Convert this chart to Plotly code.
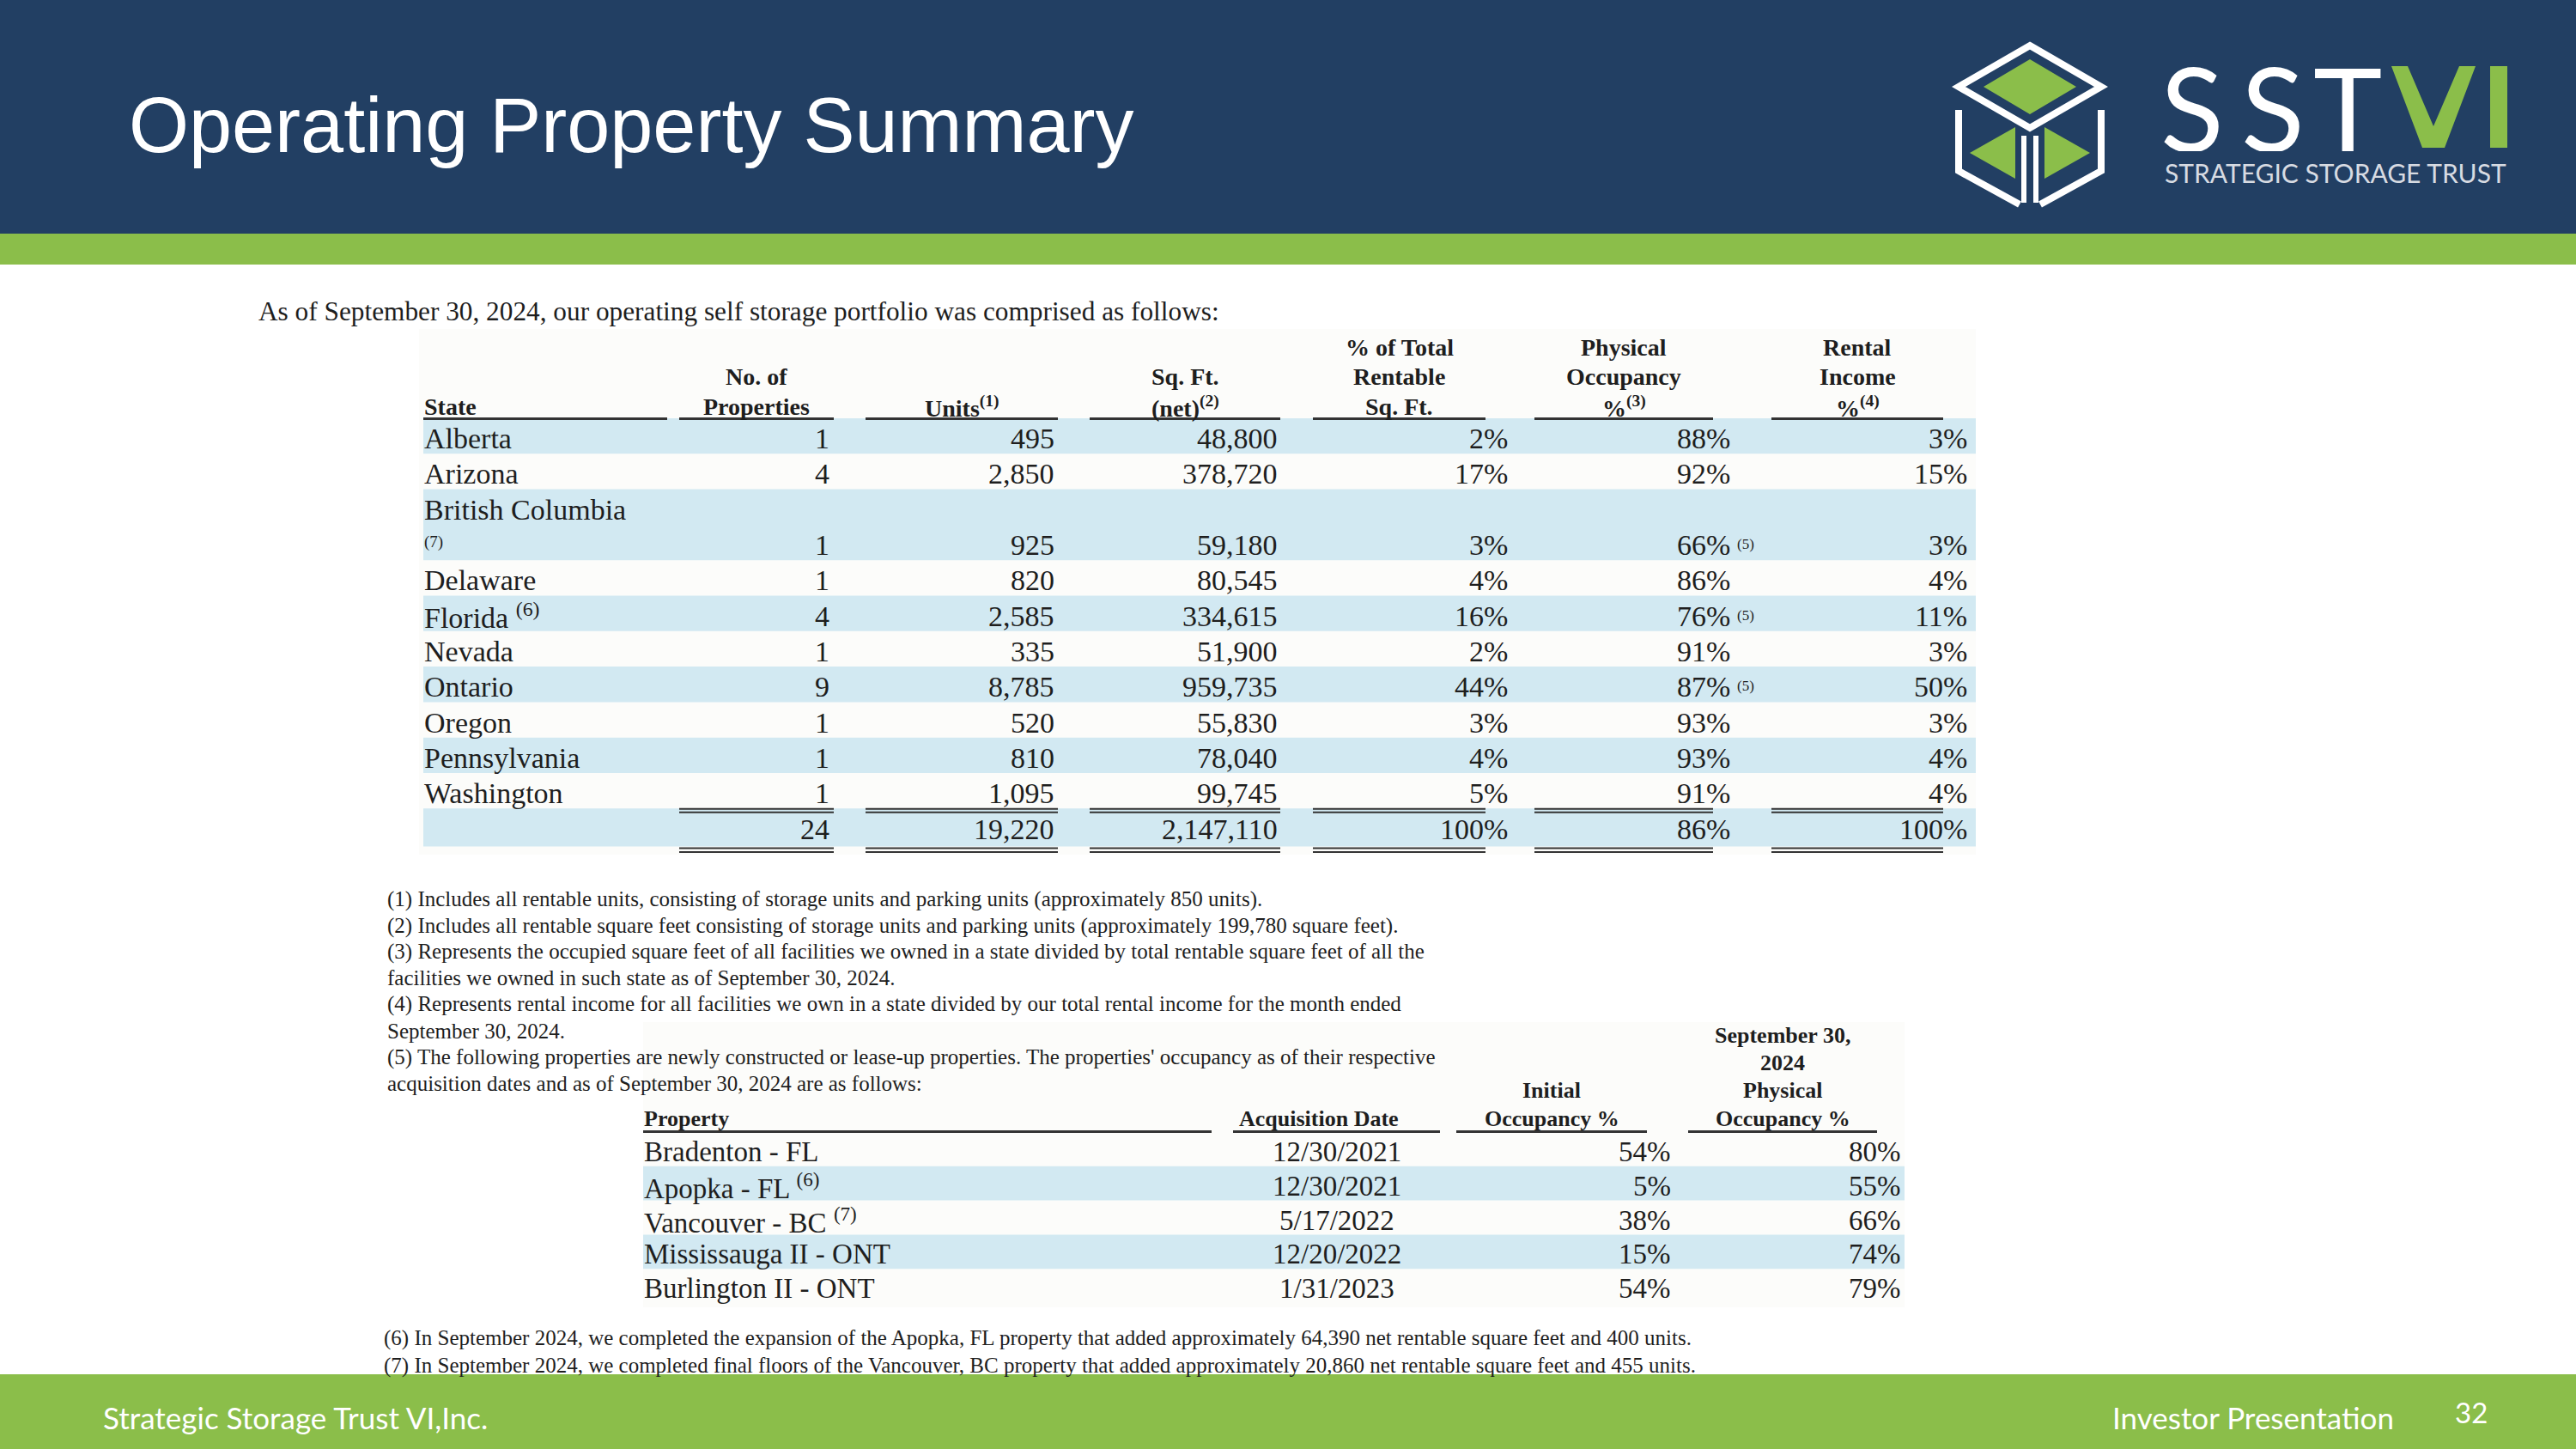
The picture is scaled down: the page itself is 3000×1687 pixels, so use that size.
import plotly.graph_objects as go

W, H = 3000, 1687

# ---------------- data ----------------
states = ["Alberta", "Arizona", "British Columbia", "Delaware", "Florida", "Nevada",
          "Ontario", "Oregon", "Pennsylvania", "Washington"]
state_notes = ["", "", "(7)", "", "(6)", "", "", "", "", ""]
state_lines = [1, 1, 2, 1, 1, 1, 1, 1, 1, 1]
num_properties = [1, 4, 1, 1, 4, 1, 9, 1, 1, 1]
units = [495, 2850, 925, 820, 2585, 335, 8785, 520, 810, 1095]
sq_ft = [48800, 378720, 59180, 80545, 334615, 51900, 959735, 55830, 78040, 99745]
pct_rentable = [2, 17, 3, 4, 16, 2, 44, 3, 4, 5]
occupancy = [88, 92, 66, 86, 76, 91, 87, 93, 93, 91]
occupancy_notes = ["", "", "(5)", "", "(5)", "", "(5)", "", "", ""]
rental_income = [3, 15, 3, 4, 11, 3, 50, 3, 4, 4]
totals = {"properties": 24, "units": 19220, "sq_ft": 2147110,
          "pct_rentable": 100, "occupancy": 86, "rental_income": 100}

main_headers = [
    ["State"],
    ["No. of", "Properties"],
    ["Units<sup>(1)</sup>"],
    ["Sq. Ft.", "(net)<sup>(2)</sup>"],
    ["% of Total", "Rentable", "Sq. Ft."],
    ["Physical", "Occupancy", "%<sup>(3)</sup>"],
    ["Rental", "Income", "%<sup>(4)</sup>"],
]

lease_up_properties = ["Bradenton - FL", "Apopka - FL", "Vancouver - BC",
                       "Mississauga II - ONT", "Burlington II - ONT"]
lease_up_notes = ["", "(6)", "(7)", "", ""]
acquisition_dates = ["12/30/2021", "12/30/2021", "5/17/2022", "12/20/2022", "1/31/2023"]
initial_occupancy = [54, 5, 38, 15, 54]
sept_occupancy = [80, 55, 66, 74, 79]

lease_headers = [
    ["Property"],
    ["Acquisition Date"],
    ["Initial", "Occupancy %"],
    ["September 30,", "2024", "Physical", "Occupancy %"],
]

intro_text = "As of September 30, 2024, our operating self storage portfolio was comprised as follows:"
footnotes_top = [
    "(1) Includes all rentable units, consisting of storage units and parking units (approximately 850 units).",
    "(2) Includes all rentable square feet consisting of storage units and parking units (approximately 199,780 square feet).",
    "(3) Represents the occupied square feet of all facilities we owned in a state divided by total rentable square feet of all the",
    "facilities we owned in such state as of September 30, 2024.",
    "(4) Represents rental income for all facilities we own in a state divided by our total rental income for the month ended",
    "September 30, 2024.",
    "(5) The following properties are newly constructed or lease-up properties. The properties' occupancy as of their respective",
    "acquisition dates and as of September 30, 2024 are as follows:",
]
footnotes_bottom = [
    "(6) In September 2024, we completed the expansion of the Apopka, FL property that added approximately 64,390 net rentable square feet and 400 units.",
    "(7) In September 2024, we completed final floors of the Vancouver, BC property that added approximately 20,860 net rentable square feet and 455 units.",
]

title_text = "Operating Property Summary"
logo_word = ["S", "S", "T"]
logo_tagline = "STRATEGIC STORAGE TRUST"
footer_left = "Strategic Storage Trust VI,Inc."
footer_right = "Investor Presentation"
page_number = "32"

# ---------------- styles ----------------
NAVY = "#223f63"
GREEN = "#8bbe4a"
BAND = "#d2e9f2"
INK = "#1e1e1e"
RULE = "#333333"
SERIF = "Liberation Serif, Times New Roman, serif"
SANS = "Liberation Sans, Arial, sans-serif"
FOOT = "Lato, Open Sans, sans-serif"

fig = go.Figure()
fig.add_trace(go.Scatter(x=[0, W], y=[0, H], mode="markers",
                         marker=dict(opacity=0), hoverinfo="skip"))

shapes = []


def rect(x0, y0, x1, y1, color, layer="below"):
    shapes.append(dict(type="rect", xref="x", yref="y", x0=x0, y0=y0, x1=x1, y1=y1,
                       fillcolor=color, line=dict(width=0), layer=layer))


def hline(x0, x1, y, width=3, color=RULE):
    shapes.append(dict(type="line", xref="x", yref="y", x0=x0, x1=x1, y0=y, y1=y,
                       line=dict(color=color, width=width)))


def path(d, fill=None, line_color=None, lw=0):
    shp = dict(type="path", xref="x", yref="y", path=d, layer="above",
               line=dict(width=lw, color=line_color or "rgba(0,0,0,0)"))
    if fill:
        shp["fillcolor"] = fill
    shapes.append(shp)


def txt(x, y, s, size, xanchor="left", family=SERIF, color=INK, height=None):
    kw = {}
    if height is not None:
        kw = dict(height=height, valign="middle")
    fig.add_annotation(x=x, y=y, xref="x", yref="y", text=s, showarrow=False,
                       xanchor=xanchor, yanchor="middle", borderpad=0,
                       font=dict(family=family, size=size, color=color), **kw)


# ---------------- page frame ----------------
rect(0, 0, W, 272, NAVY)
rect(0, 272, W, 308, GREEN)
rect(0, 1600, W, H, GREEN)

txt(149, 146, title_text, 90, family=SANS, color="white")

# logo icon
path("M 2364,53 L 2447,101 L 2364,149 L 2281,101 Z", line_color="white", lw=8)
path("M 2364,69 L 2418,101 L 2364,133 L 2310,101 Z", fill=GREEN)
path("M 2281,128 L 2281,199 L 2352,238", line_color="white", lw=8)
path("M 2447,128 L 2447,199 L 2376,238", line_color="white", lw=8)
path("M 2357,158 L 2357,236", line_color="white", lw=6)
path("M 2371,158 L 2371,236", line_color="white", lw=6)
path("M 2294,178 L 2347,148 L 2347,208 Z", fill=GREEN)
path("M 2381,148 L 2381,208 L 2434,178 Z", fill=GREEN)

# logo lettering: white "SST" as text, green "VI" as drawn marks
for ch, cx in zip(logo_word, [2553, 2647, 2734]):
    txt(cx, 124, ch, 136, xanchor="center", family="Lato, sans-serif",
        color="white", height=104)
path("M 2785,77 L 2804,77 L 2834,147 L 2864,77 L 2883,77 L 2847,172 L 2821,172 Z", fill=GREEN)
rect(2900, 77, 2920, 172, GREEN, layer="above")
txt(2920, 201, logo_tagline, 30, xanchor="right",
    family="Lato, sans-serif", color="#d7dbe2", height=24)

# footer
txt(119, 1650, footer_left, 35, family=FOOT, color="white")
txt(2789, 1650, footer_right, 35, xanchor="right", family=FOOT, color="white")
txt(2898, 1644, page_number, 33, xanchor="right", family=FOOT, color="white")

# ---------------- intro ----------------
txt(300, 362, intro_text, 31.3)

# ---------------- main table ----------------
rect(488, 383, 2301, 995, "#fcfcfa")
col_spans = [(493, 777), (791, 971), (1008, 1232), (1269, 1491),
             (1529, 1730), (1787, 1995), (2063, 2263)]
value_right = [967, 1229, 1489, 1757, 2016, 2292]
table_left, table_right = 493, 2301
top0, rh = 487, 41.3
hdr_size, body_size = 28, 34
hdr_bottom, hdr_step = 473, 34.5

for (x0, x1), lines in zip(col_spans, main_headers):
    n = len(lines)
    for k, line in enumerate(lines):
        y = hdr_bottom - (n - 1 - k) * hdr_step
        if x0 == col_spans[0][0]:
            txt(x0, y, "<b>" + line + "</b>", hdr_size)
        else:
            txt((x0 + x1) / 2, y, "<b>" + line + "</b>", hdr_size, xanchor="center")
    hline(x0, x1, 487.5, 3)

row_top = top0
for i, state in enumerate(states):
    h = rh * state_lines[i]
    if i % 2 == 0:
        rect(table_left, row_top, table_right, row_top + h, BAND)
    name_y = row_top + rh / 2 + 3
    val_y = row_top + h - rh / 2 + 3
    if state_lines[i] > 1:
        txt(table_left, name_y, state, body_size)
        txt(table_left, val_y - 4, state_notes[i], 19)
    else:
        label = state + (" <sup>" + state_notes[i] + "</sup>" if state_notes[i] else "")
        txt(table_left, name_y, label, body_size)
    vals = [f"{num_properties[i]}", f"{units[i]:,}", f"{sq_ft[i]:,}",
            f"{pct_rentable[i]}%", f"{occupancy[i]}%", f"{rental_income[i]}%"]
    for xr, v in zip(value_right, vals):
        txt(xr, val_y, v, body_size, xanchor="right")
    if occupancy_notes[i]:
        txt(value_right[4] + 6, val_y - 1, occupancy_notes[i], 17)
    row_top += h

# totals row
rect(table_left, row_top, table_right, row_top + rh + 3, BAND)
tot_vals = [f"{totals['properties']}", f"{totals['units']:,}", f"{totals['sq_ft']:,}",
            f"{totals['pct_rentable']}%", f"{totals['occupancy']}%", f"{totals['rental_income']}%"]
for xr, v in zip(value_right, tot_vals):
    txt(xr, row_top + rh / 2 + 4, v, body_size, xanchor="right")
for (x0, x1) in col_spans[1:]:
    hline(x0, x1, row_top + 0.5, 2)
    hline(x0, x1, row_top + 4.5, 2)
    hline(x0, x1, row_top + rh + 5, 2)
    hline(x0, x1, row_top + rh + 9.5, 2)

# ---------------- footnotes ----------------
for k, line in enumerate(footnotes_top):
    txt(450, 1047 + k * 30.6, line, 25)
for k, line in enumerate(footnotes_bottom):
    txt(446, 1558 + k * 31.5, line, 25)

# ---------------- lease-up table ----------------
rect(749, 1190, 2218, 1522, "#fcfcfa")
lease_spans = [(749, 1411), (1436, 1677), (1696, 1918), (1966, 2186)]
lease_hdr_centers = [None, 1536, 1807, 2076]
hdr2_bottom, hdr2_step = 1302, 32.3
for (x0, x1), cx, lines in zip(lease_spans, lease_hdr_centers, lease_headers):
    n = len(lines)
    for k, line in enumerate(lines):
        y = hdr2_bottom - (n - 1 - k) * hdr2_step
        if cx is None:
            txt(x0, y, "<b>" + line + "</b>", 26)
        else:
            txt(cx, y, "<b>" + line + "</b>", 26, xanchor="center")
    hline(x0, x1, 1317.5, 3)

top2, rh2 = 1318, 39.8
for i, prop in enumerate(lease_up_properties):
    y0 = top2 + i * rh2
    if i % 2 == 1:
        rect(749, y0, 2218, y0 + rh2, BAND)
    yc = y0 + rh2 / 2 + 3
    label = prop + (" <sup>" + lease_up_notes[i] + "</sup>" if lease_up_notes[i] else "")
    txt(749, yc, label, 33)
    txt(1557, yc, acquisition_dates[i], 33, xanchor="center")
    txt(1947, yc, f"{initial_occupancy[i]}%", 33, xanchor="right")
    txt(2215, yc, f"{sept_occupancy[i]}%", 33, xanchor="right")

fig.update_layout(
    width=W, height=H,
    margin=dict(l=0, r=0, t=0, b=0, pad=0),
    paper_bgcolor="white", plot_bgcolor="white",
    showlegend=False,
    xaxis=dict(range=[0, W], visible=False, fixedrange=True),
    yaxis=dict(range=[H, 0], visible=False, fixedrange=True),
    shapes=shapes,
)

fig.write_html("out.html", config={"displayModeBar": False},
               post_script="document.body.style.margin='0';document.body.style.overflow='hidden';")
